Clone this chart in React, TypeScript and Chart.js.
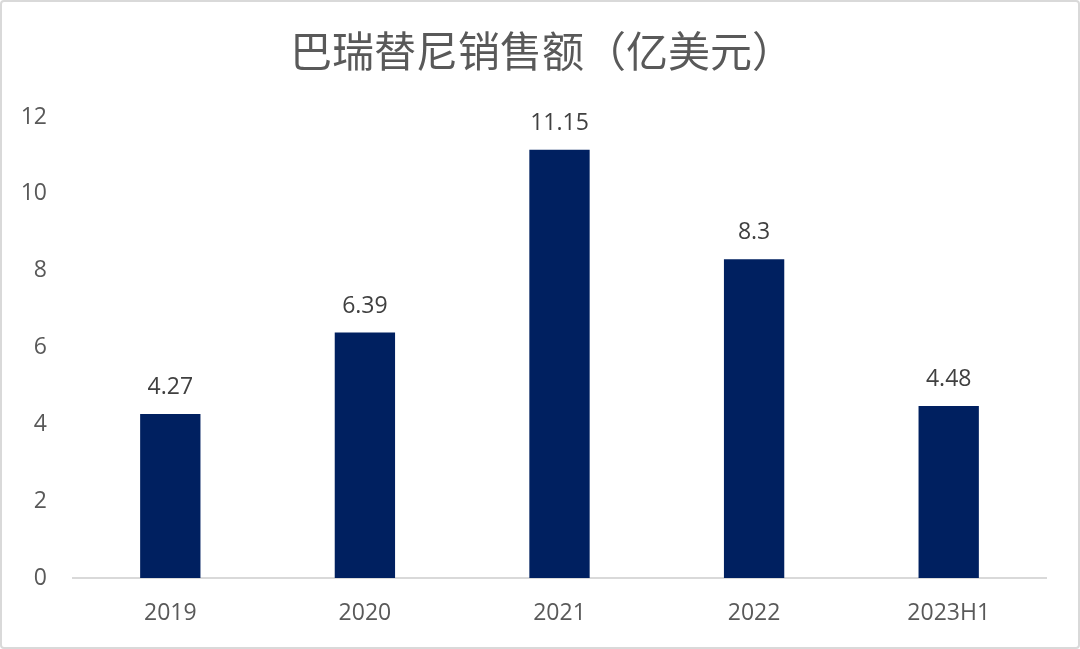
import React, { useEffect, useRef } from "react";
import { Chart, registerables } from "chart.js";

Chart.register(...registerables);

const title = "巴瑞替尼销售额（亿美元）";
const categories = ["2019", "2020", "2021", "2022", "2023H1"];
const sales = [4.27, 6.39, 11.15, 8.3, 4.48];
const valueLabels = ["4.27", "6.39", "11.15", "8.3", "4.48"];

const FONT = "'Open Sans', 'Noto Sans', sans-serif";

export default function App() {
  const ref = useRef<HTMLCanvasElement | null>(null);

  useEffect(() => {
    document.body.style.margin = "0";
    const canvas = ref.current!;
    const labelPlugin = {
      id: "valueLabels",
      afterDatasetsDraw(chart: any) {
        const ctx = chart.ctx;
        const meta = chart.getDatasetMeta(0);
        ctx.save();
        ctx.fillStyle = "#404040";
        ctx.font = `23px ${FONT}`;
        ctx.textAlign = "center";
        ctx.textBaseline = "alphabetic";
        meta.data.forEach((bar: any, i: number) => {
          ctx.fillText(valueLabels[i], bar.x, bar.y - 20);
        });
        ctx.restore();
      },
    };
    const titlePlugin = {
      id: "topTitle",
      afterDraw(chart: any) {
        const ctx = chart.ctx;
        ctx.save();
        ctx.fillStyle = "#595959";
        ctx.font = `42px 'Noto Sans CJK SC', sans-serif`;
        ctx.textAlign = "center";
        ctx.textBaseline = "middle";
        ctx.fillText(title, 542, 51);
        ctx.restore();
      },
    };
    const chart = new Chart(canvas, {
      type: "bar",
      data: {
        labels: categories,
        datasets: [
          {
            data: sales,
            backgroundColor: "#002060",
            barPercentage: 0.62,
            categoryPercentage: 0.5,
          },
        ],
      },
      options: {
        responsive: false,
        animation: false,
        layout: { padding: { top: 117, right: 34, bottom: 0, left: 0 } },
        plugins: {
          legend: { display: false },
          title: { display: false },
          tooltip: { enabled: false },
        },
        scales: {
          x: {
            grid: { display: false, drawTicks: false },
            border: { display: true, color: "#d9d9d9", width: 2 },
            ticks: {
              color: "#595959",
              font: { size: 23, family: FONT },
              padding: 22,
            },
            afterFit(scale: any) {
              scale.height = 71;
            },
          },
          y: {
            min: 0,
            max: 12,
            grid: { display: false, drawTicks: false },
            border: { display: false },
            ticks: {
              stepSize: 2,
              color: "#595959",
              font: { size: 23, family: FONT },
              padding: 26,
            },
            afterFit(scale: any) {
              scale.width = 73;
            },
          },
        },
      },
      plugins: [labelPlugin, titlePlugin],
    });
    return () => chart.destroy();
  }, []);

  return (
    <div
      style={{
        position: "relative",
        width: 1080,
        height: 649,
        boxSizing: "border-box",
        background: "#fff",
      }}
    >
      <canvas ref={ref} width={1080} height={649} style={{ position: "absolute", left: 0, top: 0 }} />
      <div
        style={{
          position: "absolute",
          left: 0,
          top: 0,
          width: 1080,
          height: 649,
          boxSizing: "border-box",
          border: "2px solid #d9d9d9",
          borderRadius: 4,
          pointerEvents: "none",
        }}
      />
    </div>
  );
}
